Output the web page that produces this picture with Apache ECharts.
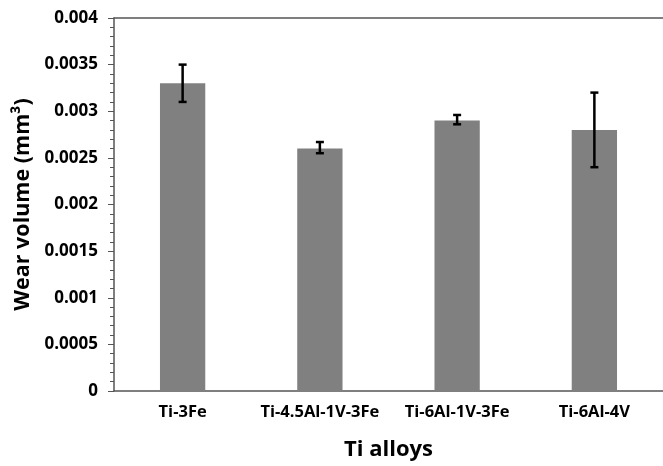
<!DOCTYPE html>
<html>
<head>
<meta charset="utf-8">
<script src="https://cdn.jsdelivr.net/npm/echarts@6/dist/echarts.min.js"></script>
<style>
  html, body { margin: 0; padding: 0; background: #fff; }
  #chart { width: 663px; height: 466px; }
</style>
</head>
<body>
<div id="chart"></div>
<script>
const alloys = ['Ti-3Fe', 'Ti-4.5Al-1V-3Fe', 'Ti-6Al-1V-3Fe', 'Ti-6Al-4V'];
const wearVolume = [0.0033, 0.0026, 0.0029, 0.0028];
const errLow = [0.0031, 0.00255, 0.00286, 0.0024];
const errHigh = [0.0035, 0.00267, 0.00296, 0.0032];

const FONT = '"Open Sans", Lato, sans-serif';
const AXIS = '#555';

const chart = echarts.init(document.getElementById('chart'));

// error bars drawn as custom shapes through the value axis
function renderErr(params, api) {
  const x = api.value(0);
  const lo = api.coord([x, api.value(1)]);
  const hi = api.coord([x, api.value(2)]);
  const cap = 4;
  const style = { stroke: '#000', lineWidth: 2.5 };
  return {
    type: 'group',
    children: [
      { type: 'line', shape: { x1: lo[0], y1: lo[1], x2: hi[0], y2: hi[1] }, style },
      { type: 'line', shape: { x1: hi[0] - cap, y1: hi[1], x2: hi[0] + cap, y2: hi[1] }, style },
      { type: 'line', shape: { x1: lo[0] - cap, y1: lo[1], x2: lo[0] + cap, y2: lo[1] }, style },
    ],
  };
}

chart.setOption({
  animation: false,
  grid: { left: 114, top: 18, width: 556, bottom: 72 },
  xAxis: [
    {
      type: 'category',
      data: alloys,
      name: 'Ti alloys',
      nameLocation: 'middle',
      nameGap: 48,
      nameTextStyle: { fontFamily: FONT, fontWeight: 'bold', fontSize: 22, color: '#000' },
      axisLine: { lineStyle: { color: AXIS, width: 1.5 } },
      axisTick: { show: false },
      axisLabel: {
        interval: 0, hideOverlap: false,
        fontFamily: FONT, fontWeight: 'bold', fontSize: 16.5, color: '#000', margin: 13,
      },
    },
    {
      type: 'category',
      data: alloys,
      position: 'top',
      axisLine: { lineStyle: { color: AXIS, width: 1.5 } },
      axisTick: { show: false },
      axisLabel: { show: false },
    },
  ],
  yAxis: {
    type: 'value',
    min: 0,
    max: 0.004,
    interval: 0.0005,
    name: 'Wear volume (mm³)',
    nameLocation: 'middle',
    nameGap: 80,
    nameTextStyle: { fontFamily: FONT, fontWeight: 'bold', fontSize: 21.5, color: '#000' },
    axisLine: { show: true, lineStyle: { color: AXIS, width: 1.5 } },
    axisTick: { show: true, length: 6, lineStyle: { color: AXIS } },
    minorTick: { show: true, splitNumber: 5, length: 4, lineStyle: { color: AXIS } },
    splitLine: { show: false },
    axisLabel: {
      fontFamily: FONT, fontWeight: 'bold', fontSize: 17, color: '#000', margin: 16,
      formatter: (v) => String(+v.toFixed(5)),
    },
  },
  series: [
    {
      type: 'bar',
      data: wearVolume,
      barWidth: '33%',
      itemStyle: { color: '#808080' },
    },
    {
      type: 'custom',
      renderItem: renderErr,
      data: alloys.map((a, i) => [i, errLow[i], errHigh[i]]),
      encode: { x: 0, y: [1, 2] },
      z: 10,
    },
  ],
});
</script>
</body>
</html>
